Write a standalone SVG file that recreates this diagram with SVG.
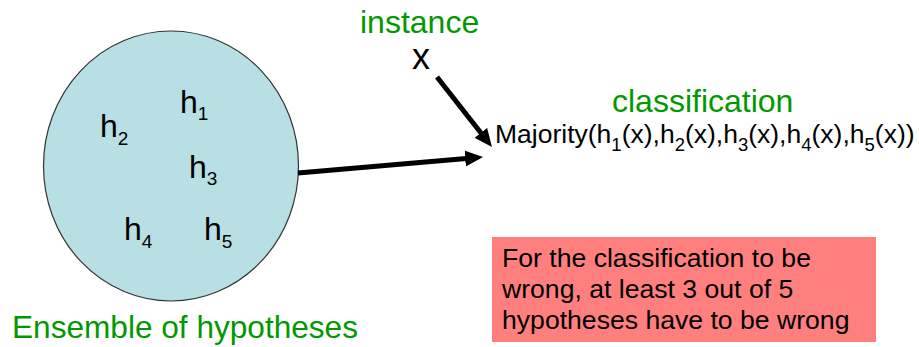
<svg xmlns="http://www.w3.org/2000/svg" width="919" height="347" viewBox="0 0 919 347">
<style>
text{font-family:"Liberation Sans",Arial,sans-serif;fill:#000}
.g{fill:#009900}
.h{font-size:32px}
.sub{font-size:19px}
.s{font-size:18.5px}
.conn{stroke:#000;stroke-width:5;fill:none}
</style>
<defs>
<marker id="ah" markerUnits="userSpaceOnUse" markerWidth="18" markerHeight="16" refX="4" refY="8" orient="auto" viewBox="0 0 18 16">
<path d="M0,0 L18,8 L0,16 z" fill="#000"/>
</marker>
</defs>
<rect width="919" height="347" fill="#fff"/>
<g id="ensemble">
<ellipse cx="171" cy="166" rx="127.5" ry="135" fill="#B8DFE3" stroke="#333" stroke-width="1.2"/>
<text class="h" x="180" y="113">h<tspan class="sub" dy="7">1</tspan></text>
<text class="h" x="100" y="137">h<tspan class="sub" dy="8">2</tspan></text>
<text class="h" x="189" y="178">h<tspan class="sub" dy="7">3</tspan></text>
<text class="h" x="124" y="240">h<tspan class="sub" dy="8">4</tspan></text>
<text class="h" x="204" y="240">h<tspan class="sub" dy="8">5</tspan></text>
<text class="g" x="12" y="338" font-size="31.6">Ensemble of hypotheses</text>
</g>
<g id="instance">
<text class="g" x="360" y="33" font-size="32">instance</text>
<text x="412" y="69" font-size="36">x</text>
</g>
<g id="classification">
<text class="g" x="612" y="112" font-size="32">classification</text>
<text x="495" y="143" font-size="26.5">Majority(h<tspan class="s" dy="8">1</tspan><tspan dy="-8">(x),h</tspan><tspan class="s" dy="8">2</tspan><tspan dy="-8">(x),h</tspan><tspan class="s" dy="8">3</tspan><tspan dy="-8">(x),h</tspan><tspan class="s" dy="8">4</tspan><tspan dy="-8">(x),h</tspan><tspan class="s" dy="8">5</tspan><tspan dy="-8">(x))</tspan></text>
</g>
<g id="note">
<rect x="492" y="237" width="384" height="105" fill="#FF7F7F"/>
<text x="502" y="267" font-size="26.6">For the classification to be</text>
<text x="502" y="298" font-size="26.6">wrong, at least 3 out of 5</text>
<text x="502" y="329" font-size="26.6">hypotheses have to be wrong</text>
</g>
<g id="connectors">
<line class="conn" x1="437" y1="77" x2="483.3" y2="136" marker-end="url(#ah)"/>
<line class="conn" x1="298" y1="173" x2="469.1" y2="158.2" marker-end="url(#ah)"/>
</g>
</svg>
